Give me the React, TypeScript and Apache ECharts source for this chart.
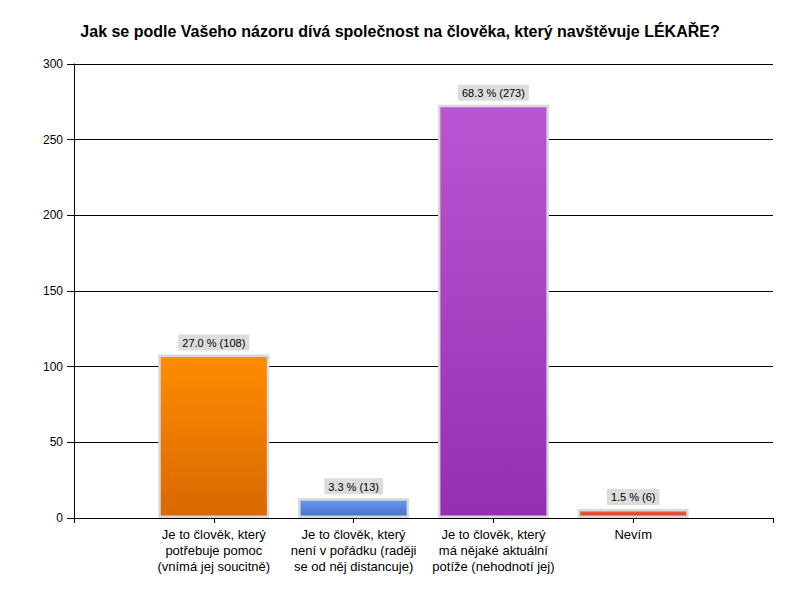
import React, { useEffect, useRef } from "react";
import * as echarts from "echarts";

const titleText = "Jak se podle Vašeho názoru dívá společnost na člověka, který navštěvuje LÉKAŘE?";
const categories = [
  "",
  "Je to člověk, který\npotřebuje pomoc\n(vnímá jej soucitně)",
  "Je to člověk, který\nnení v pořádku (raději\nse od něj distancuje)",
  "Je to člověk, který\nmá nějaké aktuální\npotíže (nehodnotí jej)",
  "Nevím",
  "",
];
const counts = [108, 13, 273, 6];
const percents = ["27.0", "3.3", "68.3", "1.5"];
const topColors = ["#FF8C00", "#6A9AEC", "#BA55D3", "#F05A3C"];
const bottomColors = ["#D96800", "#4470CC", "#9430B0", "#E03F2A"];
const yTicks = { min: 0, max: 300, interval: 50 };

const FONT = "Liberation Sans, Arial, sans-serif";

export default function App() {
  const ref = useRef<HTMLDivElement>(null);
  useEffect(() => {
    if (!ref.current) return;
    const chart = echarts.init(ref.current, null, { renderer: "svg" });
    const data: any[] = ["-"];
    counts.forEach((v, i) => {
      data.push({
        value: v,
        itemStyle: {
          color: new echarts.graphic.LinearGradient(0, 0, 0, 1, [
            { offset: 0, color: topColors[i] },
            { offset: 1, color: bottomColors[i] },
          ]),
        },
        label: { formatter: `${percents[i]} % (${v})` },
      });
    });
    data.push("-");
    chart.setOption({
      animation: false,
      textStyle: { fontFamily: FONT },
      title: {
        text: titleText,
        left: "center",
        top: 18,
        textStyle: { fontSize: 16, fontWeight: "bold", color: "#000", fontFamily: FONT },
      },
      grid: { left: 74, right: 27, top: 64, bottom: 82, containLabel: false },
      xAxis: {
        type: "category",
        data: categories,
        boundaryGap: false,
        axisLine: { lineStyle: { color: "#000", width: 1 } },
        axisTick: { show: true, length: 5, lineStyle: { color: "#000" }, alignWithLabel: true },
        axisLabel: {
          interval: 0,
          color: "#000",
          fontSize: 13,
          lineHeight: 16,
          margin: 8,
          fontFamily: FONT,
        },
        splitLine: { show: false },
      },
      yAxis: {
        type: "value",
        min: yTicks.min,
        max: yTicks.max,
        interval: yTicks.interval,
        axisLine: { show: true, lineStyle: { color: "#000", width: 1 } },
        axisTick: { show: true, length: 7, lineStyle: { color: "#000" } },
        axisLabel: { color: "#000", fontSize: 12, margin: 11, fontFamily: FONT },
        splitLine: { show: true, lineStyle: { color: "#000", width: 1 } },
      },
      series: [
        {
          type: "bar",
          data,
          barWidth: 111,
          itemStyle: { borderColor: "#D8D8D8", borderWidth: 2.5 },
          label: {
            show: true,
            position: "top",
            distance: 4,
            color: "#000",
            fontSize: 11,
            backgroundColor: "#DCDCDC",
            padding: [3, 4, 2, 4],
            fontFamily: FONT,
          },
        },
      ],
    });
    return () => chart.dispose();
  }, []);
  return <div ref={ref} style={{ width: 800, height: 600, position: "absolute", left: 0, top: 0 }} />;
}
